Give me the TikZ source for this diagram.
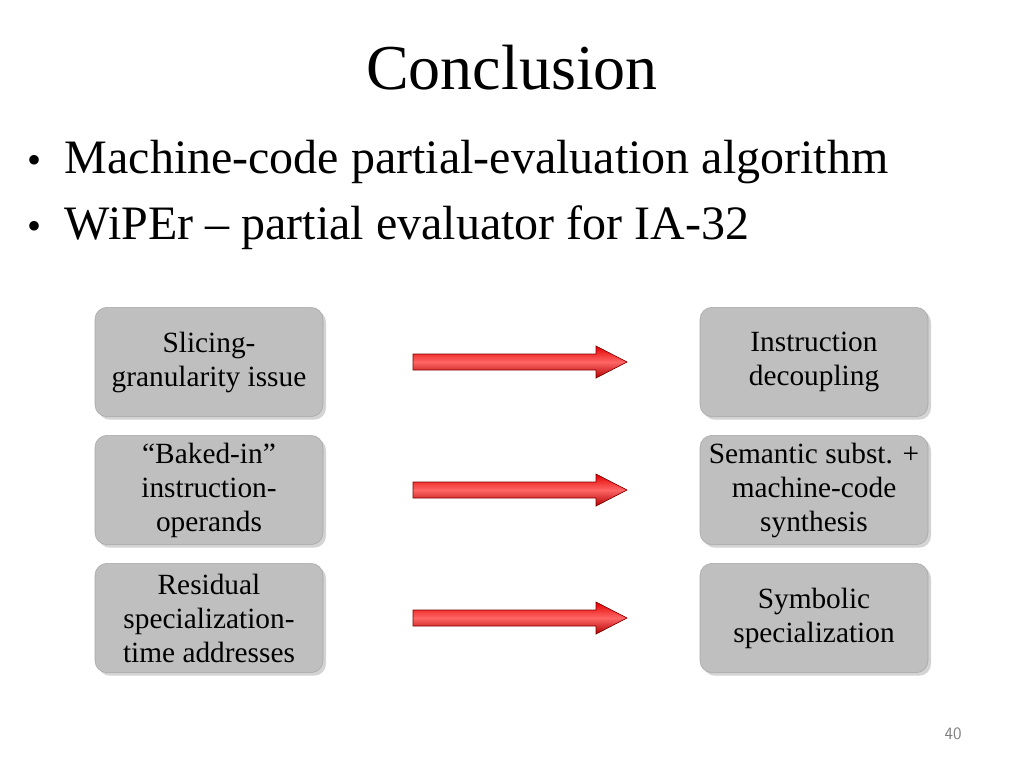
\documentclass[tikz,border=0pt]{standalone}
\usepackage{fontspec}
\setmainfont{Liberation Serif}
\usetikzlibrary{arrows.meta,shadows}
\tikzset{
  box/.style={rounded corners=9pt, draw=gray!70, fill=gray!50, minimum width=171pt, minimum height=82pt,
    align=center, font=\fontsize{22}{25.5}\selectfont, drop shadow={opacity=0.35}},
  redarrow/.style={draw=red!50!black, top color=red!90!black, bottom color=red!70!black, middle color=red!60, line width=0.5pt}
}
\begin{document}
\begin{tikzpicture}[x=0.75pt, y=-0.75pt]
	\useasboundingbox (0,0) rectangle (1024,768);
	\node at (512,68) (title) {\fontsize{48}{52}\selectfont Conclusion};
	\node[anchor=center] at (35,164) (d1) {\fontsize{30}{34}\selectfont •};
	\node[anchor=west] at (60,162) (b1) {\fontsize{36}{40}\selectfont Machine-code partial-evaluation algorithm};
	\node[anchor=center] at (35,230) (d2) {\fontsize{30}{34}\selectfont •};
	\node[anchor=west] at (60,228) (b2) {\fontsize{36}{40}\selectfont WiPEr -- partial evaluator for IA-32};

	\node at (209,362) [box] (s1) {Slicing-\\granularity issue};
	\node at (209,490) [box] (s2) {“Baked-in”\\instruction-\\operands};
	\node at (209,618) [box] (s3) {Residual\\specialization-\\time addresses};
	\node at (814,362) [box] (r1) {Instruction\\decoupling};
	\node at (814,490) [box] (r2) {Semantic subst. +\\machine-code\\synthesis};
	\node at (814,618) [box] (r3) {Symbolic\\specialization};

	\foreach \y in {362,490,618} {
		\draw[redarrow] (413,\y-8) -- (596,\y-8) -- (596,\y-16) -- (627,\y) -- (596,\y+16) -- (596,\y+8) -- (413,\y+8) -- cycle;
	}

	\node at (953,734) (page) {\fontsize{13}{15}\selectfont\sffamily\color{gray}40};
\end{tikzpicture}
\end{document}
